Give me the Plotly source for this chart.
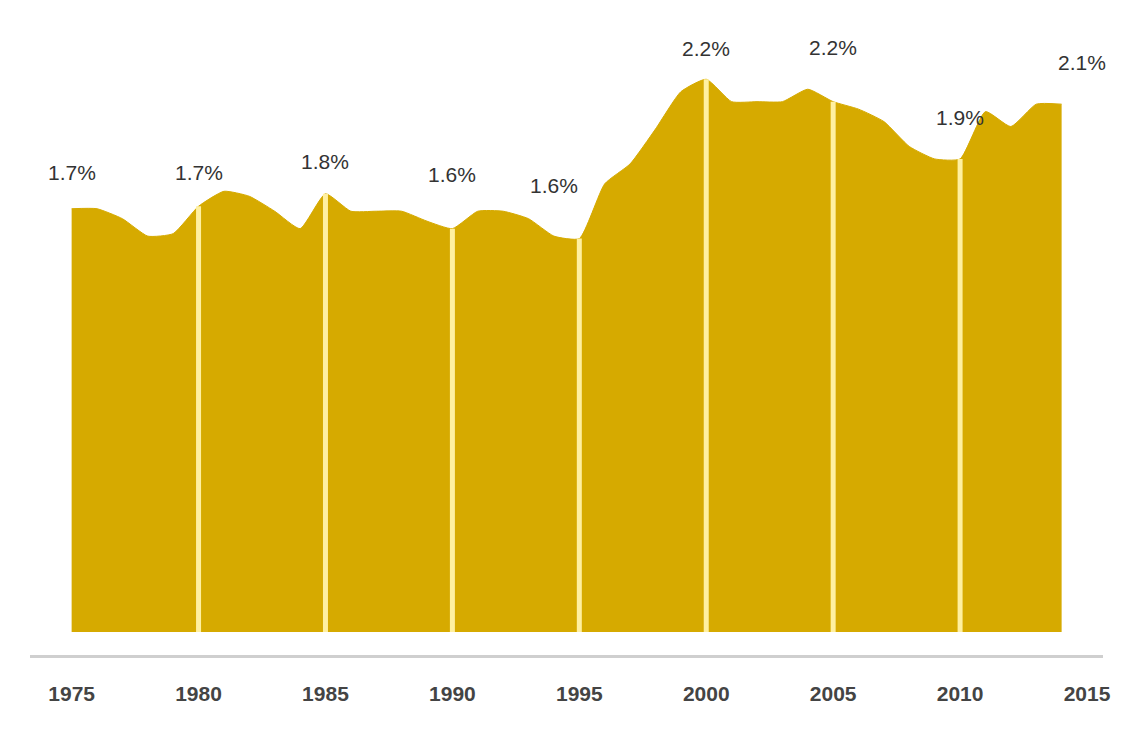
import plotly.graph_objects as go

years = list(range(1975, 2015))
values = [1.70, 1.70, 1.66, 1.59, 1.60, 1.71, 1.77, 1.75, 1.69, 1.62,
          1.76, 1.69, 1.69, 1.69, 1.65, 1.62, 1.69, 1.69, 1.66, 1.59,
          1.58, 1.80, 1.88, 2.02, 2.17, 2.22, 2.13, 2.13, 2.13, 2.18,
          2.13, 2.10, 2.05, 1.95, 1.90, 1.90, 2.09, 2.03, 2.12, 2.12]

tick_years = [1975, 1980, 1985, 1990, 1995, 2000, 2005, 2010, 2015]
grid_years = [1980, 1985, 1990, 1995, 2000, 2005, 2010]

label_years = [1975, 1980, 1985, 1990, 1994, 2000, 2005, 2010, 2014.8]
label_texts = ["1.7%", "1.7%", "1.8%", "1.6%", "1.6%", "2.2%", "2.2%", "1.9%", "2.1%"]
label_ref_years = [1975, 1980, 1985, 1990, 1994, 2000, 2005, 2010, 2014]
label_shifts = [36, 34, 32, 54, 51, 31, 54, 41, 42]

AREA = "#D6AA00"
GRID = "#FFF0A0"
FONT = "Liberation Sans Narrow, Arial Narrow, Liberation Sans, Arial, sans-serif"

fig = go.Figure()
fig.add_trace(go.Scatter(
    x=years, y=values, mode="lines", fill="tozeroy",
    fillcolor=AREA, line=dict(color=AREA, width=1, shape="spline", smoothing=0.5),
    hoverinfo="x+y", showlegend=False,
))

shapes = []
for g in grid_years:
    v = values[years.index(g)]
    shapes.append(dict(type="line", xref="x", yref="y", x0=g, x1=g, y0=0, y1=v,
                       line=dict(color=GRID, width=5), layer="above"))

annotations = []
for lx, t, ry, s in zip(label_years, label_texts, label_ref_years, label_shifts):
    annotations.append(dict(x=lx, y=values[years.index(ry)], text=t, showarrow=False,
                            xref="x", yref="y", yanchor="middle", yshift=s,
                            font=dict(family=FONT, size=21, color="#333333")))

fig.update_layout(
    width=1123, height=730,
    margin=dict(l=30, r=13, t=20, b=75),
    paper_bgcolor="white", plot_bgcolor="white",
    shapes=shapes, annotations=annotations,
    xaxis=dict(range=[1973.36, 2015.63], tickvals=tick_years,
               ticktext=["<b>%d</b>" % t for t in tick_years],
               showgrid=False, zeroline=False, showline=True,
               linecolor="#cfcfcf", linewidth=3, ticks="",
               ticklabelstandoff=18,
               tickfont=dict(family=FONT, size=21, color="#444444")),
    yaxis=dict(range=[-0.0924, 2.458], visible=False, showgrid=False, zeroline=False),
)

fig.write_html("out.html")
